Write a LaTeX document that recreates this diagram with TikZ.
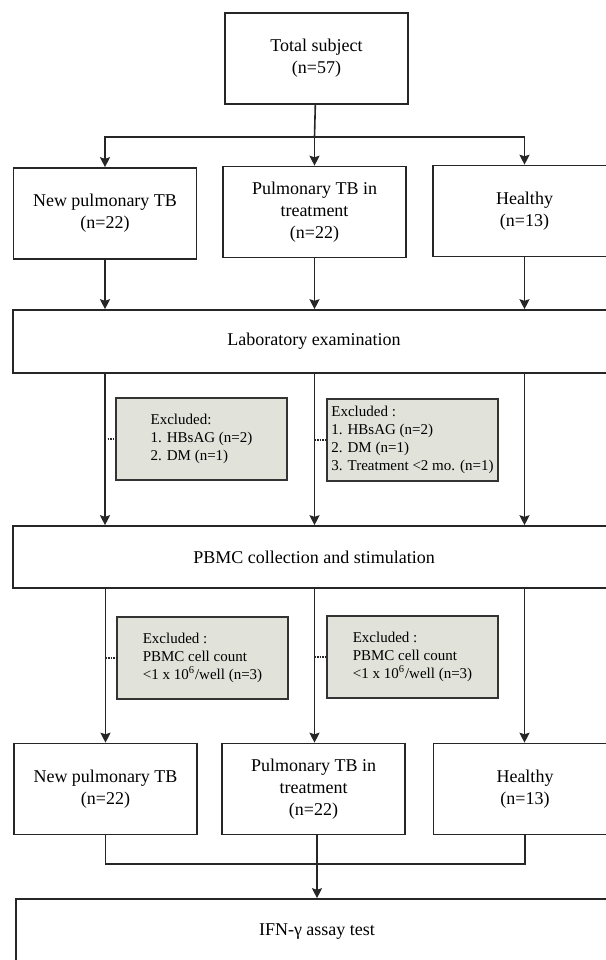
\documentclass[tikz,border=0pt]{standalone}
\usepackage{fontspec}
\setmainfont{Liberation Serif}
\usetikzlibrary{arrows.meta}

\definecolor{exclgray}{HTML}{E1E2DA}

\begin{document}
\begin{tikzpicture}[x=0.5pt, y=-0.5pt,
    line width=0.8pt, draw=black!85,
    >={Stealth[length=5pt, width=5pt, inset=0.8pt]},
    box/.style={draw, minimum width=91.5pt, minimum height=45.5pt, align=center,
        inner sep=2pt, font=\fontsize{9}{11}\selectfont},
    widebox/.style={draw, minimum width=301pt, align=center, inner sep=2pt,
        font=\fontsize{9}{11}\selectfont},
    exclbox/.style={draw=black!80, fill=exclgray, minimum width=85.5pt, minimum height=41pt,
        align=left, inner sep=2pt, font=\fontsize{7.5}{9}\selectfont},
    exclline/.style={dash pattern=on 0.7pt off 0.6pt, line width=1.4pt}]

    % Page frame
    \clip (0,0) rectangle (606,960);

    % Top box and the three groups
    \node[box] (total) at (316.5,58.5) {Total subject\\(n=57)};
    \node[box] (new1) at (105,213.5) {New pulmonary TB\\(n=22)};
    \node[box] (pulm1) at (314.5,212) {Pulmonary TB in\\treatment\\(n=22)};
    \node[box] (healthy1) at (524.5,211) {Healthy\\(n=13)};
    \coordinate (split) at (314.5,137);

    % Split into the groups
    \draw (total) -- (split);
    \draw[->] (split) -| (new1);
    \draw[->] (split) -- (pulm1);
    \draw[->] (split) -| (healthy1);

    % Laboratory examination
    \node[widebox, minimum height=31.5pt] (lab) at (314,341.5) {Laboratory examination};
    \draw[->] (new1) -- (new1 |- lab.north);
    \draw[->] (pulm1) -- (pulm1 |- lab.north);
    \draw[->] (healthy1) -- (healthy1 |- lab.north);

    % First exclusions
    \node[exclbox] (excl1) at (201.5,439) {Excluded:\\1. HBsAG (n=2)\\2. DM (n=1)};
    \node[exclbox] (excl2) at (412.5,440) {Excluded :\\1. HBsAG (n=2)\\2. DM (n=1)\\3. Treatment <2 mo. (n=1)};

    % PBMC collection
    \node[widebox, minimum height=31pt] (pbmc) at (314,557) {PBMC collection and stimulation};
    \draw[->] (lab.south -| new1) -- (pbmc.north -| new1);
    \draw[->] (lab.south -| pulm1) -- (pbmc.north -| pulm1);
    \draw[->] (lab.south -| healthy1) -- (pbmc.north -| healthy1);
    \draw[exclline] (excl1.west -| new1) -- (excl1.west);
    \draw[exclline] (excl2.west -| pulm1) -- (excl2.west);

    % Second exclusions
    \node[exclbox] (excl3) at (202.5,658) {Excluded :\\PBMC cell count\\<1 x 10\textsuperscript{6}/well (n=3)};
    \node[exclbox] (excl4) at (412.5,657) {Excluded :\\PBMC cell count\\<1 x 10\textsuperscript{6}/well (n=3)};

    % Groups after exclusion
    \node[box] (new2) at (105.5,789) {New pulmonary TB\\(n=22)};
    \node[box] (pulm2) at (313.5,789) {Pulmonary TB in\\treatment\\(n=22)};
    \node[box] (healthy2) at (525,789) {Healthy\\(n=13)};
    \draw[->] (pbmc.south -| new2) -- (new2);
    \draw[->] (pbmc.south -| pulm1) -- (pulm1 |- new2.north);
    \draw[->] (pbmc.south -| healthy1) -- (healthy1 |- healthy2.north);
    \draw[exclline] (excl3.west -| new2) -- (excl3.west);
    \draw[exclline] (excl4.west -| pulm1) -- (excl4.west);

    % Merge into the assay
    \node[widebox, minimum height=33pt] (ifn) at (317,932) {IFN-γ assay test};
    \coordinate (merge) at (317,864);
    \draw (new2) |- (merge) -| (healthy2);
    \draw[->] (pulm2.south -| merge) -- (ifn.north -| merge);

\end{tikzpicture}
\end{document}
